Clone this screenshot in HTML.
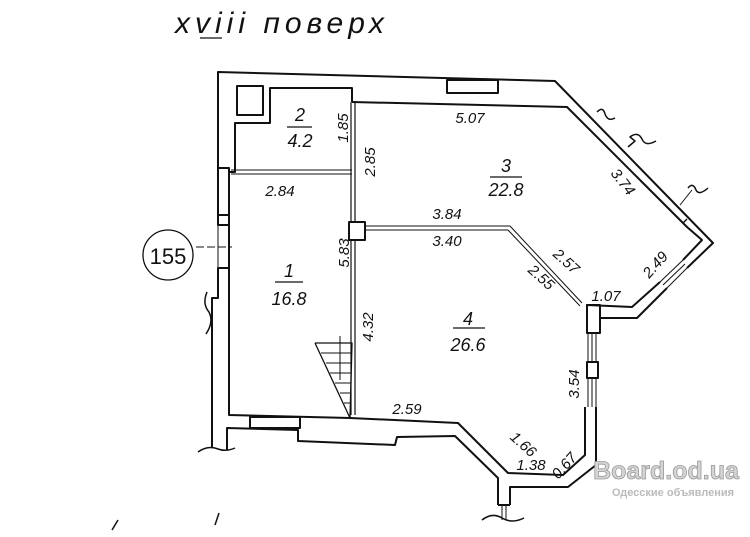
<!DOCTYPE html>
<html><head><meta charset="utf-8"><style>
html,body{margin:0;padding:0;background:#fff;}
svg{display:block;}
text{font-family:"Liberation Sans",sans-serif;fill:#111;}
.d{font-size:15px;font-style:italic;}
.r{font-size:18px;font-style:italic;}
</style></head><body>
<svg width="750" height="537" viewBox="0 0 750 537" xmlns="http://www.w3.org/2000/svg">
<g fill="none" stroke="#111" stroke-width="2" stroke-linejoin="round">
<polyline points="218,223 218,72 555,81 713,243 687,268"/>
<polyline points="667,288 637,318 600,318 600,333"/>
<polyline points="352,102 567,107 640,180"/>
<polyline points="640,180 683,223 687,227 702,240 683,260"/>
<line x1="683" y1="223" x2="687" y2="219" stroke-width="1.5"/>
<polyline points="660,282 632,307 587,305 587,333"/>
<rect x="447" y="80" width="51" height="13"/>
<line x1="683" y1="260" x2="660" y2="282" stroke-width="1"/>
<line x1="687" y1="268" x2="667" y2="288" stroke-width="1"/>
<line x1="685" y1="264" x2="663" y2="285" stroke-width="1"/>
<rect x="587" y="305" width="13" height="28"/>
<line x1="588" y1="333" x2="588" y2="407" stroke-width="1"/>
<line x1="592" y1="333" x2="592" y2="407" stroke-width="1"/>
<line x1="596" y1="333" x2="596" y2="407" stroke-width="1"/>
<rect x="587" y="362" width="11" height="16" fill="#fff"/>
<polyline points="585,407 585,455 563,475 508,473 458,423 350,418 229,415 229,172"/>
<polyline points="596,407 596,465 568,487 510,487 510,505"/>
<polyline points="498,505 498,478 455,436 397,437 395,445 298,441 298,430 227,428 227,450"/>
<rect x="250" y="417" width="50" height="11"/>
<line x1="498" y1="505" x2="510" y2="505"/>
<line x1="502" y1="505" x2="502" y2="520" stroke-width="1"/>
<line x1="506" y1="505" x2="506" y2="520" stroke-width="1"/>
<path d="M482,520 q10,-8 20,-2 q10,6 22,0" stroke-width="1.5"/>
<line x1="229" y1="172" x2="229" y2="225"/>
<rect x="218" y="168" width="11" height="57"/>
<line x1="218" y1="215" x2="229" y2="215"/>
<line x1="218" y1="225" x2="218" y2="268" stroke-width="1"/>
<line x1="229" y1="225" x2="229" y2="268" stroke-width="1"/>
<polyline points="229,268 218,268 218,298 212,298 212,447"/>
<line x1="229" y1="268" x2="229" y2="415"/>
<path d="M198,452 q10,-7 20,-3 q8,3 17,-1" stroke-width="1.5"/>
<path d="M207,292 q-5,12 2,20 q5,10 -3,22" stroke-width="1.5"/>
<rect x="237" y="86" width="26" height="29"/>
<polyline points="229,172 235,172 235,123 270,123 270,88 352,88 352,102"/>
<line x1="231" y1="170" x2="352" y2="170" stroke-width="1"/>
<line x1="231" y1="174" x2="352" y2="174" stroke-width="1"/>
<line x1="351" y1="102" x2="351" y2="415" stroke-width="1.2"/>
<line x1="355" y1="102" x2="355" y2="415" stroke-width="1.2"/>
<rect x="349" y="222" width="16" height="18" fill="#fff"/>
<polyline points="365,226 510,226 582,303" stroke-width="1"/>
<polyline points="365,230 508,230 580,306" stroke-width="1"/>
<polyline points="315,343 352,343 350,418 315,343" stroke-width="1.3"/>
<g stroke-width="1">
<line x1="321" y1="353" x2="351" y2="353"/><line x1="326" y1="363" x2="351" y2="363"/>
<line x1="330" y1="373" x2="351" y2="373"/><line x1="335" y1="383" x2="351" y2="383"/>
<line x1="340" y1="393" x2="351" y2="393"/><line x1="344" y1="403" x2="351" y2="403"/>
<line x1="340" y1="336" x2="340" y2="380"/>
</g>
<path d="M597,112 q6,-6 8,2 q3,8 10,4" stroke-width="1.5"/>
<path d="M628,147 l7,-6 l-5,-4 q8,-6 12,2 q3,8 14,2" stroke-width="1.5"/>
<line x1="680" y1="205" x2="692" y2="190" stroke-width="1"/>
<path d="M688,188 q5,-6 8,2 q3,6 12,-2" stroke-width="1.5"/>
<circle cx="168" cy="255" r="25" stroke-width="1.3"/>
<line x1="196" y1="247" x2="232" y2="247" stroke-width="1" stroke-dasharray="8,3"/>
<line x1="287" y1="127" x2="312" y2="127" stroke-width="1.3"/>
<line x1="490" y1="177" x2="522" y2="177" stroke-width="1.3"/>
<line x1="275" y1="282" x2="303" y2="282" stroke-width="1.3"/>
<line x1="453" y1="328" x2="485" y2="328" stroke-width="1.3"/>
<line x1="200" y1="38" x2="222" y2="38" stroke-width="1.3"/>
<path d="M112,530 l6,-10" stroke-width="1.5"/>
<path d="M215,525 l4,-12" stroke-width="1.5"/>
</g>
<text x="175" y="33" font-size="30" font-style="italic" letter-spacing="5">xviii поверх</text>
<text x="168" y="264" text-anchor="middle" font-size="22">155</text>
<text class="r" x="300" y="121" text-anchor="middle">2</text>
<text class="r" x="300" y="147" text-anchor="middle">4.2</text>
<text class="r" x="506" y="172" text-anchor="middle">3</text>
<text class="r" x="506" y="196" text-anchor="middle">22.8</text>
<text class="r" x="289" y="277" text-anchor="middle">1</text>
<text class="r" x="289" y="305" text-anchor="middle">16.8</text>
<text class="r" x="468" y="325" text-anchor="middle">4</text>
<text class="r" x="468" y="351" text-anchor="middle">26.6</text>
<text class="d" x="470" y="123" text-anchor="middle">5.07</text>
<text class="d" x="280" y="196" text-anchor="middle">2.84</text>
<text class="d" x="447" y="219" text-anchor="middle">3.84</text>
<text class="d" x="447" y="246" text-anchor="middle">3.40</text>
<text class="d" x="606" y="301" text-anchor="middle">1.07</text>
<text class="d" x="407" y="414" text-anchor="middle">2.59</text>
<text class="d" x="531" y="470" text-anchor="middle">1.38</text>
<text class="d" transform="translate(348,128) rotate(-90)" text-anchor="middle">1.85</text>
<text class="d" transform="translate(375,162) rotate(-90)" text-anchor="middle">2.85</text>
<text class="d" transform="translate(349,253) rotate(-90)" text-anchor="middle">5.83</text>
<text class="d" transform="translate(373,327) rotate(-90)" text-anchor="middle">4.32</text>
<text class="d" transform="translate(579,384) rotate(-90)" text-anchor="middle">3.54</text>
<text class="d" transform="translate(619,185) rotate(52)" text-anchor="middle">3.74</text>
<text class="d" transform="translate(563,265) rotate(42)" text-anchor="middle">2.57</text>
<text class="d" transform="translate(538,281) rotate(42)" text-anchor="middle">2.55</text>
<text class="d" transform="translate(659,268) rotate(-48)" text-anchor="middle">2.49</text>
<text class="d" transform="translate(520,448) rotate(42)" text-anchor="middle">1.66</text>
<text class="d" transform="translate(568,469) rotate(-48)" text-anchor="middle">0.67</text>
<text x="666" y="479" text-anchor="middle" font-size="25" font-weight="bold" stroke="#999" stroke-width="0.8" style="fill:#d4d4d4">Board.od.ua</text>
<text x="673" y="496" text-anchor="middle" font-size="11" font-weight="bold" style="fill:#bbb">Одесские объявления</text>
</svg>
</body></html>
